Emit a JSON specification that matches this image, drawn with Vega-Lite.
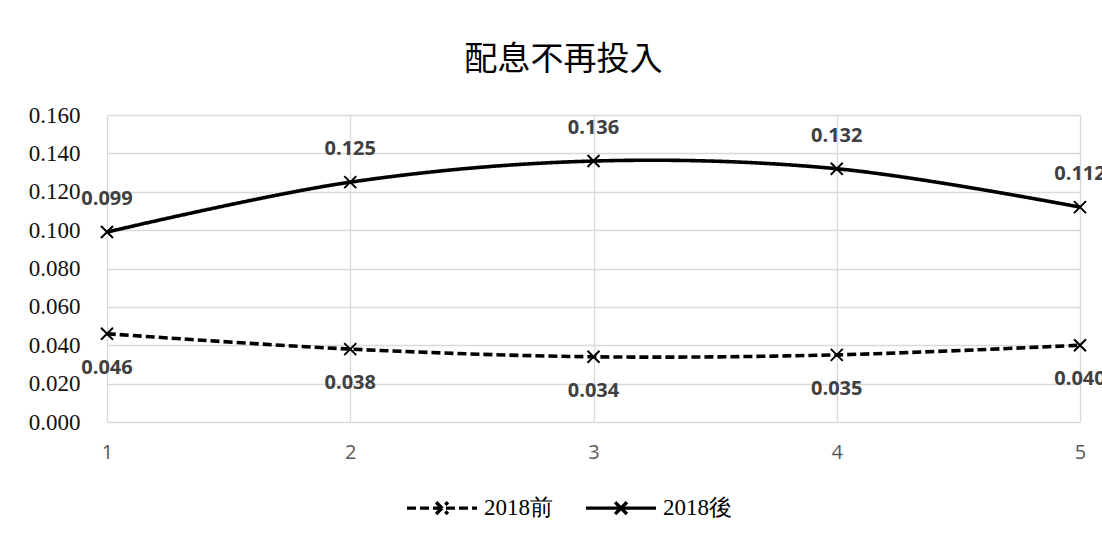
{
  "$schema": "https://vega.github.io/schema/vega-lite/v6.json",
  "autosize": {"type": "none"},
  "width": 973,
  "height": 307,
  "padding": {"left": 107, "top": 115, "right": 22, "bottom": 111},
  "background": "white",
  "title": {
    "text": "配息不再投入",
    "font": "Noto Sans CJK TC",
    "fontSize": 33,
    "fontWeight": "normal",
    "color": "#000000",
    "anchor": "middle",
    "dx": -30,
    "offset": 27
  },
  "config": {
    "view": {"stroke": null},
    "axis": {"gridColor": "#d9d9d9", "gridWidth": 1.3, "domain": false, "ticks": false},
    "axisY": {"labelFont": "Liberation Serif"},
    "axisX": {"labelFont": "Open Sans"}
  },
  "data": {
    "values": [
      {"period": 1, "series": "2018前", "value": 0.046},
      {"period": 2, "series": "2018前", "value": 0.038},
      {"period": 3, "series": "2018前", "value": 0.034},
      {"period": 4, "series": "2018前", "value": 0.035},
      {"period": 5, "series": "2018前", "value": 0.040},
      {"period": 1, "series": "2018後", "value": 0.099},
      {"period": 2, "series": "2018後", "value": 0.125},
      {"period": 3, "series": "2018後", "value": 0.136},
      {"period": 4, "series": "2018後", "value": 0.132},
      {"period": 5, "series": "2018後", "value": 0.112}
    ]
  },
  "encoding": {
    "x": {
      "field": "period",
      "type": "quantitative",
      "scale": {"domain": [1, 5], "nice": false, "zero": false},
      "axis": {
        "title": null,
        "values": [1, 2, 3, 4, 5],
        "format": "d",
        "labelFont": "Open Sans",
        "labelFontSize": 20,
        "labelColor": "#595959",
        "labelPadding": 20,
        "labelFlush": false
      }
    },
    "y": {
      "field": "value",
      "type": "quantitative",
      "scale": {"domain": [0, 0.16], "nice": false},
      "axis": {
        "title": null,
        "values": [0, 0.02, 0.04, 0.06, 0.08, 0.1, 0.12, 0.14, 0.16],
        "format": ".3f",
        "labelFont": "Liberation Serif",
        "labelFontSize": 23,
        "labelColor": "#111111",
        "labelPadding": 27
      }
    }
  },
  "layer": [
    {
      "mark": {"type": "line", "interpolate": "catmull-rom", "strokeWidth": 3.6, "color": "#000000"},
      "encoding": {
        "strokeDash": {
          "field": "series",
          "type": "nominal",
          "scale": {"domain": ["2018前", "2018後"], "range": [[9, 4], [1, 0]]},
          "legend": {
            "title": null,
            "orient": "none",
            "direction": "horizontal",
            "legendX": 298,
            "legendY": 356,
            "symbolType": "M-1,0L1,0M-0.17,-0.17L0.17,0.17M-0.17,0.17L0.17,-0.17",
            "symbolSize": 4900,
            "symbolStrokeWidth": 3.4,
            "symbolStrokeColor": "#000000",
            "symbolFillColor": "transparent",
            "labelFont": "Liberation Serif",
            "labelFontSize": 23,
            "labelColor": "#000000",
            "labelOffset": 5,
            "columnPadding": 26
          }
        }
      }
    },
    {
      "mark": {
        "type": "point",
        "shape": "M-1,-1L1,1M-1,1L1,-1",
        "size": 144,
        "filled": false,
        "stroke": "#000000",
        "strokeWidth": 2,
        "opacity": 1
      }
    },
    {
      "transform": [{"filter": "datum.series === '2018後'"}],
      "mark": {
        "type": "text",
        "dy": -33,
        "font": "Open Sans",
        "fontSize": 20,
        "fontWeight": "bold",
        "color": "#404040"
      },
      "encoding": {"text": {"field": "value", "type": "quantitative", "format": ".3f"}}
    },
    {
      "transform": [{"filter": "datum.series === '2018前'"}],
      "mark": {
        "type": "text",
        "dy": 34,
        "font": "Open Sans",
        "fontSize": 20,
        "fontWeight": "bold",
        "color": "#404040"
      },
      "encoding": {"text": {"field": "value", "type": "quantitative", "format": ".3f"}}
    }
  ]
}
